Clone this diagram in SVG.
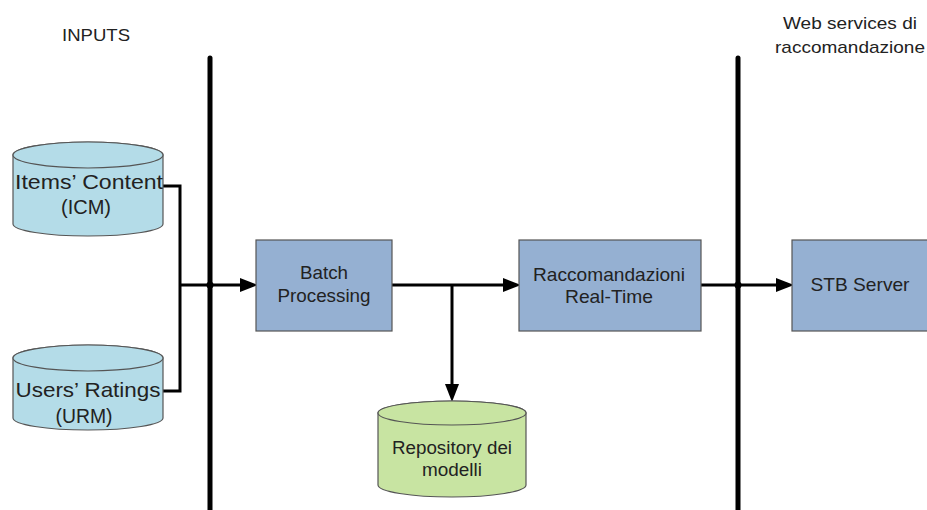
<svg xmlns="http://www.w3.org/2000/svg" width="927" height="510" viewBox="0 0 927 510">
  <style>
    text { font-family: "Liberation Sans", Arial, sans-serif; fill: #222; text-anchor: middle; }
    .lbl { font-size: 17px; }
    .box { fill: #95b0d2; stroke: #555; stroke-width: 1.2; }
    .db-blue { fill: #b4dce8; stroke: #555; stroke-width: 1.2; }
    .db-green { fill: #c8e4a2; stroke: #555; stroke-width: 1.2; }
    .t-box { font-size: 18.5px; }
    .t-db { font-size: 21px; }
    .t-repo { font-size: 17.5px; }
    .wire { fill: none; stroke: #000; stroke-width: 3; }
    .bar { fill: none; stroke: #000; stroke-width: 5; stroke-linecap: round; }
  </style>
  <defs>
    <marker id="arrow" viewBox="0 0 18 14" refX="8" refY="7" markerWidth="18" markerHeight="14" markerUnits="userSpaceOnUse" orient="auto">
      <path d="M0,0 L18,7 L0,14 z" fill="#000"/>
    </marker>
  </defs>

  <!-- header labels -->
  <g id="label-inputs">
    <text class="lbl" x="96" y="41" textLength="68" lengthAdjust="spacingAndGlyphs">INPUTS</text>
  </g>
  <g id="label-webservices">
    <text class="lbl" x="850" y="29" textLength="134" lengthAdjust="spacingAndGlyphs">Web services di</text>
    <text class="lbl" x="850" y="53" textLength="150" lengthAdjust="spacingAndGlyphs">raccomandazione</text>
  </g>

  <!-- tier separators -->
  <g id="separators">
    <line class="bar" x1="210" y1="58" x2="210" y2="515"/>
    <line class="bar" x1="738" y1="58" x2="738" y2="515"/>
  </g>

  <!-- connectors -->
  <g id="connectors">
    <polyline class="wire" points="163,186 180,186 180,391 163,391"/>
    <line class="wire" x1="180" y1="285" x2="248" y2="285" marker-end="url(#arrow)"/>
    <line class="wire" x1="392" y1="285" x2="511" y2="285" marker-end="url(#arrow)"/>
    <line class="wire" x1="452" y1="285" x2="452" y2="392" marker-end="url(#arrow)"/>
    <line class="wire" x1="701" y1="285" x2="784" y2="285" marker-end="url(#arrow)"/>
    <circle cx="210" cy="285" r="3.5" fill="#000"/>
    <circle cx="738" cy="285" r="3.5" fill="#000"/>
  </g>

  <!-- input data stores -->
  <g id="icm">
    <path class="db-blue" d="M13,155 V224 A75,12 0 0 0 163,224 V155 A75,13 0 0 0 13,155 Z"/>
    <ellipse class="db-blue" cx="88" cy="155" rx="75" ry="13"/>
    <text class="t-db" x="89" y="189" textLength="148" lengthAdjust="spacingAndGlyphs">Items’ Content</text>
    <text class="t-db" x="86" y="214" textLength="50" lengthAdjust="spacingAndGlyphs">(ICM)</text>
  </g>
  <g id="urm">
    <path class="db-blue" d="M13,358 V418 A75,12 0 0 0 163,418 V358 A75,13 0 0 0 13,358 Z"/>
    <ellipse class="db-blue" cx="88" cy="358" rx="75" ry="13"/>
    <text class="t-db" x="88" y="397" textLength="145" lengthAdjust="spacingAndGlyphs">Users’ Ratings</text>
    <text class="t-db" x="84" y="423" textLength="57" lengthAdjust="spacingAndGlyphs">(URM)</text>
  </g>

  <!-- processing blocks -->
  <g id="batch">
    <rect class="box" x="256" y="240" width="136" height="91"/>
    <text class="t-box" x="324" y="279" textLength="48" lengthAdjust="spacingAndGlyphs">Batch</text>
    <text class="t-box" x="324" y="302" textLength="93" lengthAdjust="spacingAndGlyphs">Processing</text>
  </g>
  <g id="realtime">
    <rect class="box" x="519" y="240" width="182" height="91"/>
    <text class="t-box" x="609" y="281" textLength="152" lengthAdjust="spacingAndGlyphs">Raccomandazioni</text>
    <text class="t-box" x="609" y="303" textLength="88" lengthAdjust="spacingAndGlyphs">Real-Time</text>
  </g>
  <g id="stb">
    <rect class="box" x="792" y="240" width="140" height="91"/>
    <text class="t-box" x="860" y="291" textLength="99" lengthAdjust="spacingAndGlyphs">STB Server</text>
  </g>

  <!-- model repository -->
  <g id="repository">
    <path class="db-green" d="M378,413 V485 A74,12 0 0 0 526,485 V413 A74,12 0 0 0 378,413 Z"/>
    <ellipse class="db-green" cx="452" cy="413" rx="74" ry="12"/>
    <text class="t-repo" x="452" y="454" textLength="120" lengthAdjust="spacingAndGlyphs">Repository dei</text>
    <text class="t-repo" x="452" y="476" textLength="60" lengthAdjust="spacingAndGlyphs">modelli</text>
  </g>
</svg>
